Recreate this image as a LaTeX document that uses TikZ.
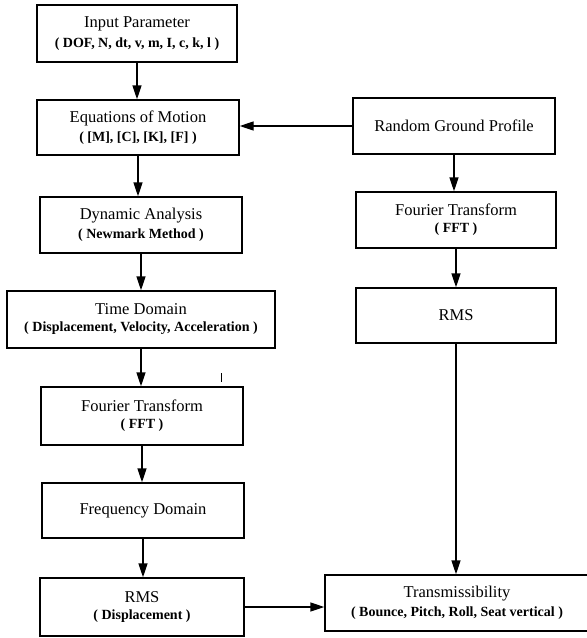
\documentclass[tikz,border=0pt]{standalone}
\usepackage{fontspec}
\setmainfont{Liberation Serif}
\usetikzlibrary{arrows.meta}
\newcommand\mytitle{\fontsize{16.5}{20}\selectfont\mdseries}
\newcommand\mysub{\fontsize{14}{17}\selectfont\bfseries}
\begin{document}
\begin{tikzpicture}[x=1pt,y=-1pt,
  box/.style={draw,line width=1.4pt,rectangle,inner sep=0pt,align=center,anchor=center},
  arr/.style={line width=1.4pt,-{Triangle[length=14pt,width=9pt]}}]
\useasboundingbox (0,0) rectangle (587,638);
% left column
\node[box,minimum width=200pt,minimum height=57pt] (inp) at (137,33.5) {\mytitle Input Parameter\\[5pt]\mysub ( DOF, N, dt, v, m, I, c, k, l )};
\node[box,minimum width=202pt,minimum height=55pt] (eq) at (138,127.5) {\mytitle Equations of Motion\\[5pt]\mysub ( [M], [C], [K], [F] )};
\node[box,minimum width=202pt,minimum height=56pt] (dyn) at (141,225) {\mytitle Dynamic Analysis\\[5pt]\mysub ( Newmark Method )};
\node[box,minimum width=268pt,minimum height=57pt] (time) at (141,319.5) {\mytitle Time Domain\\[5pt]\mysub ( Displacement, Velocity, Acceleration )};
\node[box,minimum width=202pt,minimum height=58pt] (four) at (142,416) {\mytitle Fourier Transform\\[5pt]\mysub ( FFT )};
\node[box,minimum width=202pt,minimum height=55pt] (freq) at (143,510.5) {\mytitle Frequency Domain};
\node[box,minimum width=204pt,minimum height=58pt] (rms) at (142,607) {\mytitle RMS\\[5pt]\mysub ( Displacement )};
% right column
\node[box,minimum width=202pt,minimum height=56pt] (rgp) at (454,126) {\mytitle Random Ground Profile};
\node[box,minimum width=200pt,minimum height=56pt] (four2) at (456,220) {\mytitle Fourier Transform\\[5pt]\mysub ( FFT )};
\node[box,minimum width=200pt,minimum height=55pt] (rms2) at (456,315.5) {\mytitle RMS};
\node[box,minimum width=264pt,minimum height=56pt] (trans) at (457,603) {\mytitle Transmissibility\\[5pt]\mysub ( Bounce, Pitch, Roll, Seat vertical )};
% connectors
\draw[arr] (inp.south) -- (inp.south |- eq.north);
\draw[arr] (eq.south) -- (eq.south |- dyn.north);
\draw[arr] (dyn.south) -- (dyn.south |- time.north);
\draw[arr] (time.south) -- (time.south |- four.north);
\draw[arr] (four.south) -- (four.south |- freq.north);
\draw[arr] (freq.south) -- (freq.south |- rms.north);
\draw[arr] (rgp.west) -- (rgp.west -| eq.east);
\draw[arr] (rgp.south) -- (rgp.south |- four2.north);
\draw[arr] (four2.south) -- (four2.south |- rms2.north);
\draw[arr] (rms2.south) -- (rms2.south |- trans.north);
\draw[arr] (rms.east) -- (rms.east -| trans.west);
% small stray mark
\draw[line width=1pt] (221,373) -- (221,382);
\end{tikzpicture}
\end{document}
